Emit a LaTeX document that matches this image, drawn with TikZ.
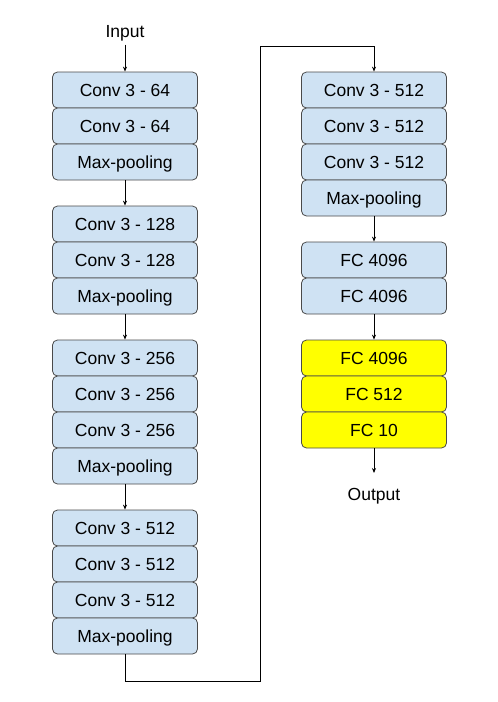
\documentclass[tikz,border=0pt]{standalone}
\usepackage{fontspec}
\setmainfont{Liberation Sans}
\usetikzlibrary{arrows.meta}
\definecolor{lblue}{HTML}{CFE2F3}
\definecolor{yel}{HTML}{FFFF00}
\definecolor{edge}{HTML}{4A4A4A}
\begin{document}
\begin{tikzpicture}[x=1pt,y=-1pt,
  layer/.style={draw=edge, fill=lblue, rounded corners=5pt, minimum width=145pt, minimum height=36pt, inner sep=0pt, text height=12.6pt, text depth=0pt, line width=0.8pt, font=\fontsize{17.5}{20}\selectfont},
  fclayer/.style={layer, fill=yel},
  lbl/.style={inner sep=0pt, text height=12.6pt, text depth=0pt, font=\fontsize{17.5}{20}\selectfont},
  conn/.style={draw=black, line width=0.8pt, -{Stealth[length=5pt,width=4pt]}},
  plainline/.style={draw=edge, line width=0.8pt}]
\useasboundingbox (0,0) rectangle (498,702);
% left column
\node[lbl] (in) at (125,31) {Input};
\node[layer] (l1) at (125,90) {Conv 3 - 64};
\node[layer] (l2) at (125,126) {Conv 3 - 64};
\node[layer] (l3) at (125,162) {Max-pooling};
\node[layer] (l4) at (125,224) {Conv 3 - 128};
\node[layer] (l5) at (125,260) {Conv 3 - 128};
\node[layer] (l6) at (125,296) {Max-pooling};
\node[layer] (l7) at (125,358) {Conv 3 - 256};
\node[layer] (l8) at (125,394) {Conv 3 - 256};
\node[layer] (l9) at (125,430) {Conv 3 - 256};
\node[layer] (l10) at (125,466) {Max-pooling};
\node[layer] (l11) at (125,528) {Conv 3 - 512};
\node[layer] (l12) at (125,564) {Conv 3 - 512};
\node[layer] (l13) at (125,600) {Conv 3 - 512};
\node[layer] (l14) at (125,636) {Max-pooling};
% right column
\node[layer] (r1) at (374,90) {Conv 3 - 512};
\node[layer] (r2) at (374,126) {Conv 3 - 512};
\node[layer] (r3) at (374,162) {Conv 3 - 512};
\node[layer] (r4) at (374,198) {Max-pooling};
\node[layer] (r5) at (374,260) {FC 4096};
\node[layer] (r6) at (374,296) {FC 4096};
\node[fclayer] (r7) at (374,358) {FC 4096};
\node[fclayer] (r8) at (374,394) {FC 512};
\node[fclayer] (r9) at (374,430) {FC 10};
\node[lbl] (out) at (374,494) {Output};
\coordinate (t9) at (374,473);
% connectors
\draw[conn] (in.south) ++(0,7) -- (l1.north);
\draw[conn] (l3.south) -- (l4.north);
\draw[conn] (l6.south) -- (l7.north);
\draw[conn] (l10.south) -- (l11.north);
\coordinate (b1) at (125,681);
\coordinate (b2) at (260,681);
\coordinate (b3) at (260,46);
\coordinate (b4) at (374,46);
\draw[conn] (l14.south) -- (b1) -- (b2) -- (b3) -- (b4) -- (r1.north);
\draw[conn] (r4.south) -- (r5.north);
\draw[conn] (r6.south) -- (r7.north);
\draw[conn] (r9.south) -- (t9);
\end{tikzpicture}
\end{document}
